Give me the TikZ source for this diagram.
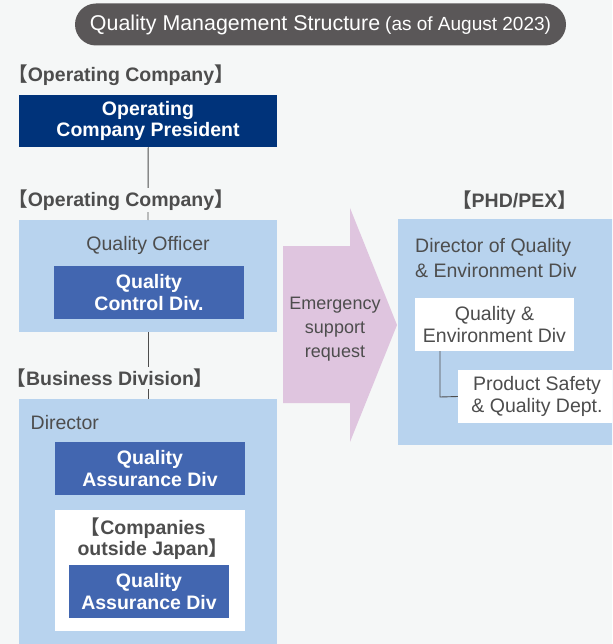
\documentclass[tikz,border=0pt]{standalone}
\usepackage{fontspec}
\setmainfont{Liberation Sans}
\newfontfamily\cjkfont{Noto Sans CJK JP}
\definecolor{bgc}{HTML}{F5F7F7}
\definecolor{pillc}{HTML}{5A5758}
\definecolor{navyc}{HTML}{00337A}
\definecolor{lightc}{HTML}{B8D3EE}
\definecolor{midc}{HTML}{4266B0}
\definecolor{pinkc}{HTML}{DFC5DF}
\definecolor{txtc}{HTML}{4D4D4D}
\newcommand\lbrk{{\cjkfont\kern-0.5em 【}}
\newcommand\rbrk{{\cjkfont 】\kern-0.5em}}
\newcommand\bxfont{\fontsize{19.5}{21.5}\selectfont\bfseries}
\newcommand\rgfont{\fontsize{19.5}{25}\selectfont}
\tikzset{
  outerbox/.style={fill=lightc, draw=none, anchor=north west, inner sep=0pt},
  darkbox/.style={fill=midc, text=white, font=\bxfont, align=center, inner sep=0pt},
  whitebox/.style={fill=white, text=txtc, align=center, inner sep=0pt},
  grouplabel/.style={fill=bgc, text=txtc, font=\bxfont, inner sep=2pt},
  plaintext/.style={text=txtc, font=\rgfont, inner sep=0pt},
  conn/.style={draw=txtc, line width=0.9pt}
}
\begin{document}
\begin{tikzpicture}[x=1pt,y=-1pt]
\path[use as bounding box, fill=bgc] (0,0) rectangle (612,644);
\clip (0,0) rectangle (612,644);
% title
\node (title) [fill=pillc, text=white, rounded corners=21pt, minimum width=491pt, minimum height=42pt, inner sep=0pt] at (320.5,24.5)
  {{\fontsize{21.4}{24}\selectfont Quality Management Structure}\hspace{5pt}{\fontsize{19}{24}\selectfont(as of August 2023)}};
% left column
\node (lab1) [grouplabel] at (121,75) {\lbrk Operating Company\rbrk};
\node (pres) [fill=navyc, text=white, font=\bxfont, align=center, inner sep=0pt, minimum width=258pt, minimum height=52pt] at (148,121) {Operating\\Company President};
\node (qo) [outerbox, minimum width=258pt, minimum height=112pt] at (19,220) {};
\node (qotxt) [plaintext] at (148,245) {Quality Officer};
\node (qc) [darkbox, minimum width=190pt, minimum height=53pt] at (149,292.5) {Quality\\Control Div.};
\node (dir) [outerbox, minimum width=258pt, minimum height=260pt] at (19,399) {};
\node (dirtxt) [plaintext, anchor=west] at (30.5,423) {Director};
\node (qa1) [darkbox, minimum width=190pt, minimum height=53pt] at (150,468.5) {Quality\\Assurance Div};
\node (ovs) [whitebox, minimum width=190pt, minimum height=121pt] at (150,570.5) {};
\node (ovstxt) [text=txtc, font=\bxfont, align=center, inner sep=0pt] at (148,538.5) {\lbrk Companies\\outside Japan\rbrk};
\node (qa2) [darkbox, minimum width=160pt, minimum height=53pt] at (149,591.5) {Quality\\Assurance Div};
% vertical connectors
\draw[conn] (pres.south -| qo.north) -- (148,220);
\draw[conn] (148,332) -- (148,399);
\node (lab2) [grouplabel] at (121,200) {\lbrk Operating Company\rbrk};
\node (lab3) [grouplabel] at (110,378) {\lbrk Business Division\rbrk};
% arrow
\fill[pinkc] (283,246) -- (350,246) -- (350,208) -- (397,325) -- (350,442) -- (350,403) -- (283,403) -- cycle;
\node (emerg) [text=txtc, font=\fontsize{18}{24}\selectfont, align=center, inner sep=0pt] at (335,329) {Emergency\\support\\request};
% right column
\node (lab4) [grouplabel] at (514.5,200) {\lbrk PHD/PEX\rbrk};
\node (phd) [outerbox, minimum width=222pt, minimum height=226pt] at (398,219) {};
\node (phdtxt) [plaintext, anchor=north west, align=left] at (415,238) {Director of Quality\\\& Environment Div};
\node (qe) [whitebox, font=\fontsize{19.5}{22}\selectfont, minimum width=159pt, minimum height=53pt] at (494.5,324.5) {Quality \&\\Environment Div};
\node (ps) [whitebox, font=\fontsize{19.5}{22}\selectfont, minimum width=158pt, minimum height=53pt] at (537,396.5) {Product Safety\\\& Quality Dept.};
\draw[conn] (qe.south -| 440,0) -- (440,397) -- (ps.west);
\end{tikzpicture}
\end{document}
